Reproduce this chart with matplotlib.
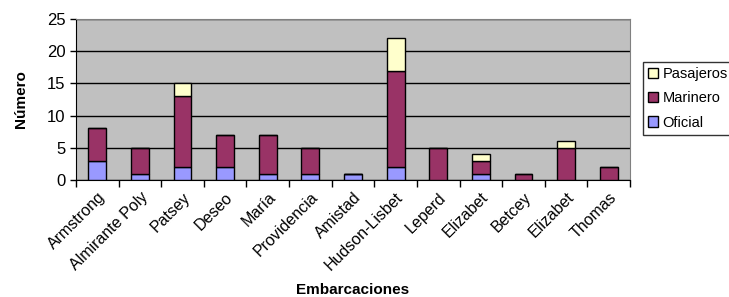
import numpy as np
import matplotlib.pyplot as plt

plt.rcParams['font.family'] = ['Liberation Sans', 'DejaVu Sans']

barcos = ['Armstrong', 'Almirante Poly', 'Patsey', 'Deseo', 'María', 'Providencia',
          'Amistad', 'Hudson-Lisbet', 'Leperd', 'Elizabet', 'Betcey', 'Elizabet', 'Thomas']
oficial = [3, 1, 2, 2, 1, 1, 1, 2, 0, 1, 0, 0, 0]
marinero = [5, 4, 11, 5, 6, 4, 0, 15, 5, 2, 1, 5, 2]
pasajeros = [0, 0, 2, 0, 0, 0, 0, 5, 0, 1, 0, 1, 0]

fig = plt.figure(figsize=(7.29, 2.97), dpi=100)
ax = fig.add_axes([76 / 729, 1 - 180 / 297, (630 - 76) / 729, (180 - 19) / 297])
ax.set_facecolor('#c0c0c0')

x = np.arange(len(barcos))
w = 0.42
ofi = np.array(oficial)
mar = np.array(marinero)
pas = np.array(pasajeros)
ax.bar(x, ofi, w, color='#9999ff', edgecolor='black', linewidth=1, label='Oficial', zorder=3)
ax.bar(x, mar, w, bottom=ofi, color='#993366', edgecolor='black', linewidth=1, label='Marinero', zorder=3)
ax.bar(x, pas, w, bottom=ofi + mar, color='#ffffcc', edgecolor='black', linewidth=1, label='Pasajeros', zorder=3)

ax.set_xlim(-0.5, len(barcos) - 0.5)
ax.set_ylim(0, 25)
ax.set_yticks(range(0, 26, 5))
ax.yaxis.grid(True, color='black', linewidth=1, zorder=1)
ax.tick_params(axis='y', labelsize=12, length=4, width=1)

ax.set_xticks(x)
ax.set_xticklabels(barcos, rotation=45, ha='right', rotation_mode='anchor', fontsize=11.5)
ax.tick_params(axis='x', which='major', length=0, pad=7)
ax.set_xticks(np.arange(-0.5, len(barcos)), minor=True)
ax.tick_params(axis='x', which='minor', length=5, width=1)

for s in ['top', 'right']:
    ax.spines[s].set_color('#808080')
for s in ['left', 'bottom']:
    ax.spines[s].set_color('black')

ax.set_ylabel('Número', fontsize=11, fontweight='bold', labelpad=14)
fig.text((76 + 630) / 2 / 729, 1 - 290 / 297, 'Embarcaciones', fontsize=11,
         fontweight='bold', ha='center', va='center')

h, l = ax.get_legend_handles_labels()
leg = fig.legend(h[::-1], l[::-1], loc='upper left', bbox_to_anchor=(643 / 729, 1 - 62 / 297),
                 fontsize=10.5, frameon=True, fancybox=False, edgecolor='black',
                 handlelength=0.7, handleheight=0.7, handletextpad=0.3,
                 borderpad=0.35, labelspacing=0.7, borderaxespad=0)
leg.get_frame().set_linewidth(1)

fig.savefig('out.png', dpi=100)
